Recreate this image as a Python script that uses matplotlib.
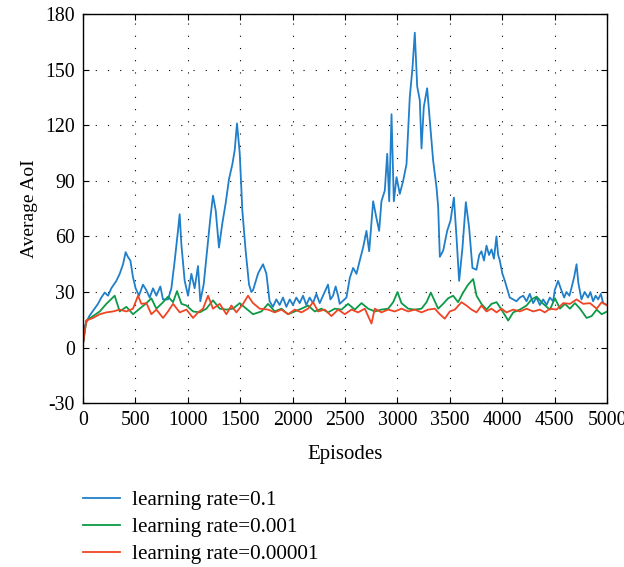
import matplotlib
matplotlib.use("Agg")
import matplotlib.pyplot as plt

# =========================
# DATA
# =========================
ep_blue = [0, 20, 60, 110, 143, 175, 207, 239, 270, 318, 350, 382, 407, 430, 452, 477, 502, 534,
           572, 604, 636, 668, 700, 738, 763, 811, 843, 875, 906, 922, 938, 970, 1002, 1034,
           1065, 1097, 1119, 1151, 1183, 1215, 1240, 1266, 1297, 1329, 1361, 1393, 1425, 1447,
           1469, 1495, 1520, 1552, 1584, 1606, 1622, 1670, 1717, 1749, 1780, 1812, 1844, 1876,
           1908, 1940, 1972, 2003, 2035, 2067, 2099, 2130, 2162, 2194, 2226, 2258, 2290, 2337,
           2360, 2385, 2410, 2433, 2449, 2513, 2545, 2577, 2609, 2640, 2672, 2704, 2730, 2768,
           2799, 2825, 2847, 2879, 2902, 2921, 2943, 2965, 2991, 3022, 3054, 3086, 3117, 3143,
           3165, 3188, 3213, 3229, 3251, 3283, 3308, 3340, 3372, 3388, 3404, 3436, 3474, 3506,
           3538, 3563, 3588, 3620, 3652, 3683, 3715, 3753, 3780, 3801, 3825, 3849, 3873, 3897,
           3920, 3944, 3960, 3976, 4000, 4024, 4056, 4071, 4104, 4135, 4167, 4199, 4231, 4262,
           4294, 4326, 4358, 4390, 4422, 4453, 4485, 4500, 4532, 4563, 4590, 4611, 4640, 4659,
           4685, 4708, 4725, 4755, 4785, 4818, 4840, 4866, 4890, 4914, 4940, 4962, 5000]
val_blue = [2, 12, 17, 21, 23.6, 27, 29.7, 28, 32, 36, 39.8, 45, 51.5, 48.8, 47, 38, 32, 28,
            34, 31, 27, 32, 28, 33, 26, 26, 32, 47, 63, 72, 56, 36, 28, 39.8,
            32, 44, 25, 34, 52, 70, 82, 74, 54, 67, 78, 91, 99, 106.5,
            121, 105, 74, 52, 34, 30, 31, 40, 45, 40, 25, 22, 26, 23,
            27, 22, 26, 23, 27, 24, 28, 23, 27, 24, 29, 24, 28, 34,
            26, 28, 33, 28, 23.6, 27, 37.6, 43, 39.8, 47, 54, 63, 52, 79,
            70, 63, 79, 84.8, 104.6, 79, 126, 79, 92, 83, 90, 99, 135, 151,
            170, 141, 133.5, 107.5, 130, 140, 122.6, 101, 86.6, 76, 49, 52.4, 63, 68.6,
            81, 59.6, 36, 54, 78.5, 65, 43, 42, 50, 52, 47, 55, 50, 53,
            48, 60, 50, 47, 40, 36, 30, 27, 26, 25, 27, 28, 25, 29,
            24, 27, 23, 26, 23, 27, 25, 31, 36, 31, 27, 30, 28, 32,
            38, 45, 35, 26, 30, 27, 30, 25, 28, 26, 29, 24, 23]

ep_green = [0, 32, 96, 160, 223, 302, 350, 414, 477, 541, 605, 652, 700, 764, 811, 859, 897, 939,
            987, 1050, 1113, 1177, 1240, 1304, 1368, 1431, 1495, 1558, 1622, 1702, 1765, 1829,
            1893, 1956, 2020, 2084, 2147, 2211, 2275, 2338, 2402, 2466, 2529, 2593, 2657, 2720,
            2784, 2847, 2911, 2959, 3000, 3038, 3102, 3165, 3229, 3277, 3318, 3388, 3435, 3483,
            3531, 3578, 3626, 3674, 3722, 3754, 3801, 3849, 3897, 3945, 3992, 4056, 4104, 4167,
            4231, 4279, 4327, 4390, 4454, 4502, 4550, 4597, 4645, 4693, 4741, 4804, 4852, 4900,
            4948, 5000]
val_green = [2, 14.6, 17, 19.5, 23.6, 28, 19.5, 22, 18, 21, 24, 26.6, 21, 24.5, 27.5, 24.5, 30.5, 23.6,
             22.7, 19.5, 19, 21, 25.5, 21, 20.5, 21, 24, 21, 18, 19.5, 23.6, 19.5,
             21, 18, 19.5, 21, 22.7, 19.5, 21, 19, 21, 20.5, 23.6, 20.5, 24, 21,
             19.5, 20.5, 21, 24.5, 30, 24, 21, 20.5, 21, 24.5, 29.7, 21, 23.6, 26.6,
             28, 24.5, 29.7, 34, 37, 28, 23.6, 20.5, 23.6, 24.5, 20.5, 14.6, 19, 20.5,
             22.7, 26, 27.5, 23.6, 20.5, 26.6, 21, 23.6, 21, 24, 21, 16, 17, 20.5,
             18, 19.5]

ep_red = [0, 32, 96, 160, 223, 287, 350, 414, 477, 525, 557, 605, 652, 700, 764, 811, 859, 923,
          987, 1050, 1098, 1145, 1193, 1240, 1304, 1368, 1416, 1463, 1527, 1574, 1622, 1686,
          1766, 1829, 1893, 1957, 2020, 2084, 2147, 2195, 2243, 2306, 2370, 2434, 2497, 2561,
          2624, 2688, 2752, 2783, 2847, 2911, 2974, 3038, 3102, 3165, 3229, 3293, 3356, 3404,
          3451, 3499, 3547, 3610, 3658, 3706, 3754, 3801, 3849, 3897, 3945, 3992, 4040, 4104,
          4167, 4231, 4295, 4358, 4406, 4454, 4517, 4581, 4645, 4708, 4772, 4836, 4900, 4948,
          5000]
val_red = [2, 14.6, 16, 18, 19, 19.5, 20.5, 19.5, 21, 28, 23.6, 24, 18, 20.5, 16, 19.5, 23.6, 19,
           20.5, 16, 19, 21, 28, 21, 23.6, 18, 22.7, 19, 23.6, 28, 24, 21,
           20.5, 19, 20.5, 18, 20.5, 19, 21, 24.5, 19.5, 20.5, 17, 20.5, 18, 20.5,
           19, 21, 13, 21, 19, 20.5, 19.5, 21, 19.5, 20.5, 19, 20.5, 21, 18,
           15.6, 19.5, 20.5, 24.5, 22.7, 20.5, 19, 22.7, 19.5, 21, 19, 21, 19, 20.5,
           19.5, 21, 19.5, 20.5, 19, 21, 20.5, 24, 23.6, 26, 23.6, 24, 21, 24.5,
           22.7]

labels = ["learning rate=0.1", "learning rate=0.001", "learning rate=0.00001"]
x_ticks = list(range(0, 5001, 500))
y_ticks = list(range(-30, 181, 30))

# =========================
# FIGURE
# =========================
plt.rcParams["font.family"] = ["Liberation Serif", "DejaVu Serif"]
plt.rcParams["axes.unicode_minus"] = False

fig = plt.figure(figsize=(6.24, 5.67), dpi=100)
ax = fig.add_axes([0.133, 0.289, 0.840, 0.686])

ax.plot(ep_blue, val_blue, color="#1f7fca", lw=1.3, label=labels[0])
ax.plot(ep_green, val_green, color="#0b9a47", lw=1.3, label=labels[1])
ax.plot(ep_red, val_red, color="#ef4524", lw=1.3, label=labels[2])

ax.set_xlim(0, 5000)
ax.set_ylim(-30, 180)
ax.set_xticks(x_ticks)
ax.set_yticks(y_ticks)
ax.tick_params(direction="in", top=True, right=True, length=4, labelsize=14.3, pad=6)
ax.grid(True, color="black", linestyle=(0, (1, 10)), linewidth=0.8)
for s in ax.spines.values():
    s.set_linewidth(1.0)

ax.set_xlabel("Episodes", fontsize=15, labelpad=10.5)
ax.set_ylabel("Average AoI", fontsize=14, labelpad=5)

fig.legend(loc="upper left", bbox_to_anchor=(0.1195, 0.1495), frameon=False,
           fontsize=15.2, handlelength=1.75, handletextpad=0.57, labelspacing=0.33,
           borderaxespad=0)

fig.savefig("out.png", dpi=100)
